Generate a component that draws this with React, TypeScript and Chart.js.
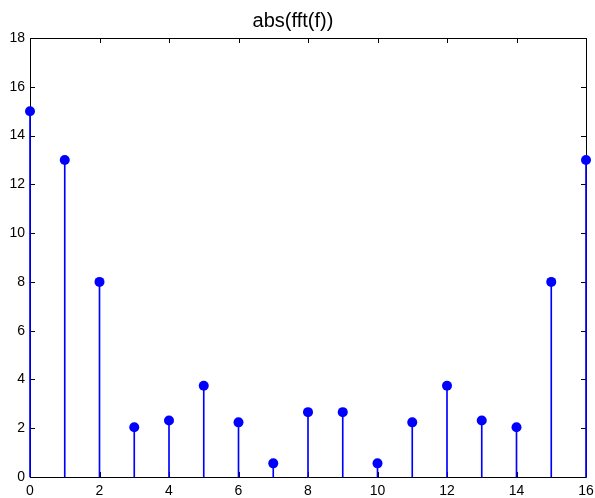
import React, { useEffect, useRef } from "react";
import { Chart, registerables } from "chart.js";

Chart.register(...registerables);

const xValues = [0, 1, 2, 3, 4, 5, 6, 7, 8, 9, 10, 11, 12, 13, 14, 15, 16];
const magnitudes = [15, 13, 8, 2.04, 2.32, 3.74, 2.24, 0.56, 2.66, 2.66, 0.56, 2.24, 3.74, 2.32, 2.04, 8, 13];
const xTicks = [0, 2, 4, 6, 8, 10, 12, 14, 16];
const yTicks = [0, 2, 4, 6, 8, 10, 12, 14, 16, 18];
const titleText = "abs(fft(f))";

const FONT = "'Liberation Sans', Arial, Helvetica, sans-serif";

const boxTicksPlugin = {
  id: "boxTicks",
  beforeDatasetsDraw(chart: any) {
    const { ctx, chartArea, scales } = chart;
    const { left, right, top, bottom } = chartArea;
    const len = 5;
    ctx.save();
    ctx.strokeStyle = "#000";
    ctx.lineWidth = 1;
    ctx.beginPath();
    for (const v of xTicks) {
      const px = Math.round(scales.x.getPixelForValue(v)) + 0.5;
      ctx.moveTo(px, bottom);
      ctx.lineTo(px, bottom - len);
      ctx.moveTo(px, top);
      ctx.lineTo(px, top + len);
    }
    for (const v of yTicks) {
      const py = Math.round(scales.y.getPixelForValue(v)) + 0.5;
      ctx.moveTo(left, py);
      ctx.lineTo(left + len, py);
      ctx.moveTo(right, py);
      ctx.lineTo(right - len, py);
    }
    ctx.stroke();
    ctx.beginPath();
    ctx.rect(Math.round(left) + 0.5, Math.round(top) + 0.5, Math.round(right - left), Math.round(bottom - top));
    ctx.stroke();
    ctx.restore();
  },
};

export default function App() {
  const ref = useRef<HTMLCanvasElement | null>(null);
  useEffect(() => {
    document.body.style.margin = "0";
    const canvas = ref.current;
    if (!canvas) return;
    const stems = xValues.map((x, i) => ({ x, y: magnitudes[i] }));
    const chart = new Chart(canvas, {
      type: "scatter",
      data: {
        datasets: [
          {
            type: "bar",
            data: stems,
            backgroundColor: "#0000ff",
            borderWidth: 0,
            barThickness: 1,
            order: 2,
            clip: false,
          } as any,
          {
            type: "scatter",
            data: stems,
            backgroundColor: "#0000ff",
            borderColor: "#0000ff",
            borderWidth: 0,
            pointRadius: 5,
            pointHoverRadius: 5,
            order: 1,
            clip: false,
          } as any,
        ],
      },
      options: {
        responsive: false,
        animation: false,
        events: [],
        layout: { padding: { left: 0, right: 9, top: 0, bottom: 0 } },
        plugins: {
          legend: { display: false },
          tooltip: { enabled: false },
          title: {
            display: true,
            text: titleText,
            color: "#000",
            font: { family: FONT, size: 20, weight: "normal" },
            padding: { top: 9, bottom: 5 },
          },
        },
        scales: {
          x: {
            type: "linear",
            min: 0,
            max: 16,
            offset: false,
            afterBuildTicks: (s: any) => {
              s.ticks = xTicks.map((v) => ({ value: v }));
            },
            afterFit: (s: any) => {
              s.height = 21;
              s.paddingLeft = 0;
              s.paddingRight = 0;
            },
            grid: { display: false, drawTicks: false },
            border: { display: false },
            ticks: {
              color: "#000",
              font: { family: FONT, size: 14 },
              padding: 6,
              maxRotation: 0,
              autoSkip: false,
            },
          },
          y: {
            type: "linear",
            min: 0,
            max: 18,
            afterBuildTicks: (s: any) => {
              s.ticks = yTicks.map((v) => ({ value: v }));
            },
            afterFit: (s: any) => {
              s.width = 30;
              s.paddingTop = 0;
              s.paddingBottom = 0;
            },
            grid: { display: false, drawTicks: false },
            border: { display: false },
            ticks: {
              color: "#000",
              font: { family: FONT, size: 14 },
              padding: 5,
              autoSkip: false,
            },
          },
        },
      },
      plugins: [boxTicksPlugin],
    });
    return () => chart.destroy();
  }, []);
  return <canvas ref={ref} width={595} height={498} style={{ display: "block" }} />;
}
